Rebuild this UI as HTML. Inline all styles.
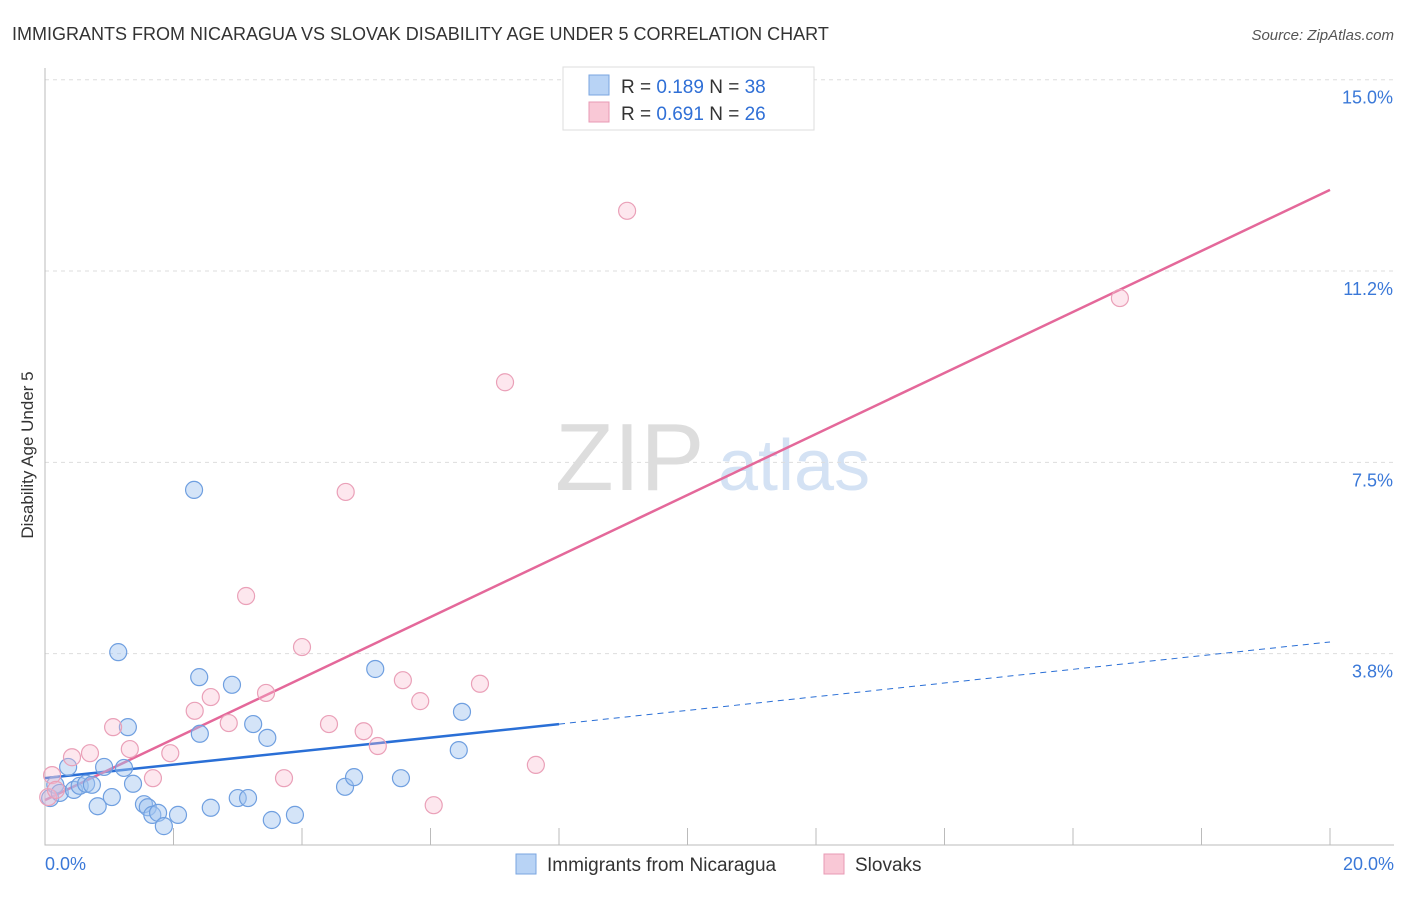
<!DOCTYPE html>
<html><head><meta charset="utf-8"><style>
body{margin:0;background:#fff;font-family:"Liberation Sans",sans-serif}
svg text{font-family:"Liberation Sans",sans-serif}
</style></head><body>
<svg width="1406" height="892" xmlns="http://www.w3.org/2000/svg">
<text x="12" y="40" font-size="18" fill="#333">IMMIGRANTS FROM NICARAGUA VS SLOVAK DISABILITY AGE UNDER 5 CORRELATION CHART</text>
<text x="1394" y="40" font-size="15" fill="#555" font-style="italic" text-anchor="end">Source: ZipAtlas.com</text>
<text x="33" y="455" font-size="17" fill="#333" text-anchor="middle" transform="rotate(-90 33 455)">Disability Age Under 5</text>
<g><text x="555" y="490" font-size="96" fill="#ddd" font-family="Liberation Serif">ZIP</text><text x="718" y="490" font-size="72" fill="#d4e2f4">atlas</text></g>
<g id="grid"></g><g id="axes"></g><g id="lines"></g><g id="pts"></g>
<g>
<rect x="563" y="67" width="251" height="63" fill="#fff" stroke="#ddd"/>
<rect x="589" y="75" width="20" height="20" fill="#b8d3f5" stroke="#7aa6e0"/>
<text x="621" y="93" font-size="19" fill="#333">R = <tspan fill="#2f6fd6">0.189</tspan>   N = <tspan fill="#2f6fd6">38</tspan></text>
<rect x="589" y="102" width="20" height="20" fill="#f9c8d6" stroke="#e89ab4"/>
<text x="621" y="120" font-size="19" fill="#333">R = <tspan fill="#2f6fd6">0.691</tspan>   N = <tspan fill="#2f6fd6">26</tspan></text>
</g>
<g>
<rect x="516" y="854" width="20" height="20" fill="#b8d3f5" stroke="#7aa6e0"/>
<text x="547" y="871" font-size="19" fill="#333">Immigrants from Nicaragua</text>
<rect x="824" y="854" width="20" height="20" fill="#f9c8d6" stroke="#e89ab4"/>
<text x="855" y="871" font-size="19" fill="#333">Slovaks</text>
</g>
</svg>
<script>
const yTicks=[15.0,11.2,7.5,3.8];
const yTickVals=[15,11.25,7.5,3.75];
const xTickLabels=["0.0%","20.0%"];
const blueX=[0.08,0.16,0.23,0.36,0.45,0.54,0.64,0.73,0.82,0.92,1.04,1.14,1.23,1.29,1.37,1.54,1.60,1.67,1.76,1.85,2.07,2.32,2.40,2.41,2.58,2.91,3.00,3.16,3.24,3.46,3.53,3.89,4.67,4.81,5.14,5.54,6.44,6.49];
const blueY=[0.92,1.18,1.02,1.53,1.08,1.16,1.20,1.18,0.76,1.53,0.94,3.78,1.51,2.31,1.20,0.80,0.74,0.59,0.63,0.37,0.59,6.96,3.29,2.18,0.73,3.14,0.92,0.92,2.37,2.10,0.49,0.59,1.14,1.33,3.45,1.31,1.86,2.61];
const pinkX=[0.05,0.11,0.17,0.42,0.70,1.06,1.32,1.68,1.95,2.33,2.58,2.86,3.13,3.44,3.72,4.00,4.42,4.68,4.96,5.18,5.57,5.84,6.05,6.77,7.16,7.64,9.06,16.73];
const pinkY=[0.94,1.37,1.08,1.72,1.80,2.31,1.88,1.31,1.80,2.63,2.90,2.39,4.88,2.98,1.31,3.88,2.37,6.92,2.23,1.94,3.23,2.82,0.78,3.16,9.07,1.57,12.43,10.72];
const blueLine=[1.31,2.37,3.98]; // at x=0, 8, 20
const pinkLine=[0.88,12.84]; // at x=0, 20
const NS="http://www.w3.org/2000/svg";
const sx=v=>45+v/20*1285, sy=v=>845-v/15*765.3;
function mk(t,a,p){const e=document.createElementNS(NS,t);for(const k in a)e.setAttribute(k,a[k]);p.appendChild(e);return e;}
const grid=document.getElementById('grid'),axes=document.getElementById('axes'),lines=document.getElementById('lines'),pts=document.getElementById('pts');
yTickVals.forEach((v,i)=>{
 const l=mk('line',{x1:45,x2:1394,y1:sy(v),y2:sy(v),stroke:'#ddd','stroke-dasharray':'4,4'},grid);
 
 
 const t=mk('text',{x:1393,y:sy(v)+24,'font-size':18,fill:'#3a78d8','text-anchor':'end'},axes);
 t.textContent=yTicks[i].toFixed(1)+'%';
 
 
});
const ax=mk('path',{d:'M45 68V845H1394',fill:'none',stroke:'#bbb'},axes);


for(let i=1;i<=10;i++){const tk=mk('line',{x1:sx(i*2),x2:sx(i*2),y1:828,y2:845,stroke:'#bbb'},axes);
 
 }
[[0,'start',45],[20,'end',1394]].forEach((d,i)=>{const t=mk('text',{x:d[2],y:870,'font-size':18,fill:'#3a78d8','text-anchor':d[1]},axes);t.textContent=xTickLabels[i];
 
 });
function dot(x,y,f,s,n){const c=mk('circle',{cx:sx(x),cy:sy(y),r:8.5,fill:f,stroke:s,'stroke-width':1.2},pts);
 
 }
blueX.forEach((x,i)=>dot(x,blueY[i],'rgba(160,195,240,0.45)','#6f9fe0','nicaragua-point'));
pinkX.forEach((x,i)=>dot(x,pinkY[i],'rgba(248,185,205,0.35)','#eaa0b8','slovak-point'));
let l1=mk('line',{x1:sx(0),y1:sy(blueLine[0]),x2:sx(8),y2:sy(blueLine[1]),stroke:'#2a6fd6','stroke-width':2.5},lines);


let l2=mk('line',{x1:sx(8),y1:sy(blueLine[1]),x2:sx(20),y2:sy(blueLine[2]),stroke:'#2a6fd6','stroke-width':1,'stroke-dasharray':'6,5'},lines);


let l3=mk('line',{x1:sx(0),y1:sy(pinkLine[0]),x2:sx(20),y2:sy(pinkLine[1]),stroke:'#e4689a','stroke-width':2.5},lines);


</script>
</body></html>
